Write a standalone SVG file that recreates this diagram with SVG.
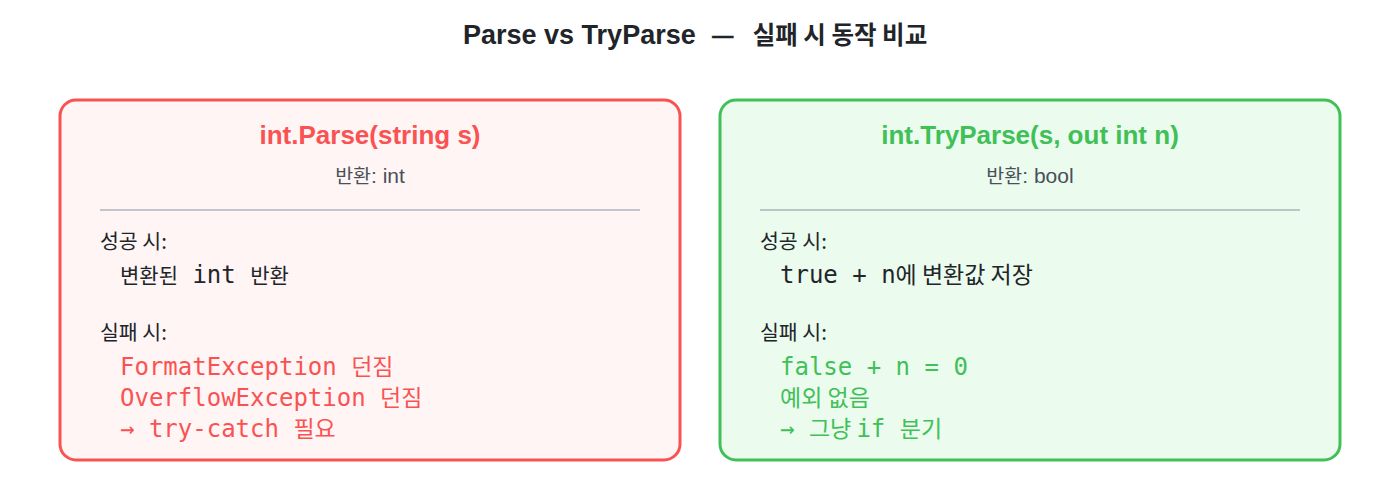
<svg xmlns="http://www.w3.org/2000/svg" width="1400" height="500" viewBox="0 0 1400 500">
<style>
.bg{fill:#ffffff}
.t{font-family:"Liberation Sans","Noto Sans CJK KR",sans-serif;font-weight:bold;font-size:27px;fill:#212529}
.td{font-size:21px;stroke:#212529;stroke-width:0.6}
.tk{font-family:"Noto Sans CJK KR",sans-serif;font-size:24.5px;font-weight:bold}
.h{font-family:"Liberation Sans","Noto Sans CJK KR",sans-serif;font-weight:bold;font-size:26px;text-anchor:middle}
.sub{font-family:"Liberation Sans","Noto Sans CJK KR",sans-serif;font-size:21px;fill:#495057;text-anchor:middle}
.k{font-family:"Noto Sans CJK KR",sans-serif;font-size:19.5px}
.lbl{font-family:"Noto Sans CJK KR",sans-serif;font-size:20.5px;fill:#212529}
.m{font-family:"DejaVu Sans Mono","Noto Sans CJK KR",monospace;font-size:24px}
.mk{font-family:"Noto Sans CJK KR",sans-serif;font-size:21px}
.mk2{font-family:"Noto Sans CJK KR",sans-serif;font-size:23px}
.dark{fill:#212529}
.red{fill:#fa5252}
.green{fill:#40c057}
.boxr{fill:#fff5f5;stroke:#fa5252;stroke-width:3}
.boxg{fill:#ebfbee;stroke:#40c057;stroke-width:3}
.div{stroke:#adb5bd;stroke-width:1.5}
</style>
<rect class="bg" x="0" y="0" width="1400" height="500"/>
<text class="t" x="463" y="44">Parse vs TryParse <tspan class="td" dx="9" dy="-2.5">—</tspan><tspan dy="2.5"> </tspan><tspan class="tk" dx="12">실패 시 동작 비교</tspan></text>
<g id="parse">
<rect class="boxr" x="60" y="100" width="620" height="360" rx="16"/>
<text class="h red" x="370" y="144">int.Parse(string s)</text>
<text class="sub" x="370" y="183"><tspan class="k">반환</tspan>: int</text>
<line class="div" x1="100" y1="210" x2="640" y2="210"/>
<text class="lbl" x="100" y="249">성공 시:</text>
<text class="m dark" x="120" y="283"><tspan class="mk">변환된</tspan> int <tspan class="mk">반환</tspan></text>
<text class="lbl" x="100" y="340">실패 시:</text>
<text class="m red" x="120" y="375">FormatException <tspan class="mk2">던짐</tspan></text>
<text class="m red" x="120" y="406">OverflowException <tspan class="mk2">던짐</tspan></text>
<text class="m red" x="120" y="437">→ try-catch <tspan class="mk2">필요</tspan></text>
</g>
<g id="tryparse">
<rect class="boxg" x="720" y="100" width="620" height="360" rx="16"/>
<text class="h green" x="1030" y="144">int.TryParse(s, out int n)</text>
<text class="sub" x="1030" y="183"><tspan class="k">반환</tspan>: bool</text>
<line class="div" x1="760" y1="210" x2="1300" y2="210"/>
<text class="lbl" x="760" y="249">성공 시:</text>
<text class="m dark" x="780" y="283">true + n<tspan class="mk2">에 변환값 저장</tspan></text>
<text class="lbl" x="760" y="340">실패 시:</text>
<text class="m green" x="780" y="375">false + n = 0</text>
<text class="m green" x="780" y="406"><tspan class="mk2">예외 없음</tspan></text>
<text class="m green" x="780" y="437">→ <tspan class="mk2">그냥 </tspan>if <tspan class="mk2">분기</tspan></text>
</g>
<g id="connectors"></g>
</svg>
